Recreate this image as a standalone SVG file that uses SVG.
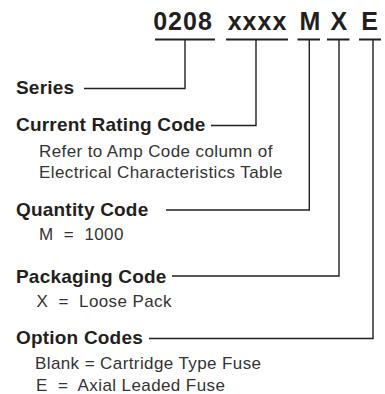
<svg xmlns="http://www.w3.org/2000/svg" width="385" height="394" viewBox="0 0 385 394">
<style>
.hd{font-family:"Liberation Sans",Arial,sans-serif;font-weight:bold;font-size:25px;fill:#231f20;text-anchor:middle}
.lb{font-family:"Liberation Sans",Arial,sans-serif;font-weight:bold;font-size:19px;letter-spacing:0.2px;fill:#231f20}
.tx{font-family:"Liberation Sans",Arial,sans-serif;font-size:17px;letter-spacing:0.4px;fill:#333}
.ul{stroke:#231f20;stroke-width:2;fill:none}
.cn{stroke:#231f20;stroke-width:1.4;fill:none}
</style>
<rect width="385" height="394" fill="#fff"/>
<g id="header">
<text class="hd" x="183" y="29.5" letter-spacing="1">0208</text>
<text class="hd" x="257.5" y="29.5" letter-spacing="1">xxxx</text>
<text class="hd" x="310" y="29.5">M</text>
<text class="hd" x="338.8" y="29.5">X</text>
<text class="hd" x="369.5" y="29.5">E</text>
<path class="ul" d="M155,39.5H215M226,39.5H288M297.5,39.5H320M327,39.5H349.5M359,39.5H381"/>
</g>
<g id="series"><text class="lb" x="16" y="94">Series</text></g>
<g id="current"><text class="lb" x="16" y="131">Current Rating Code</text>
<text class="tx" x="39" y="156.5">Refer to Amp Code column of</text>
<text class="tx" x="39" y="177.5">Electrical Characteristics Table</text></g>
<g id="quantity"><text class="lb" x="16" y="215.5">Quantity Code</text>
<text class="tx" x="39" y="239.5" xml:space="preserve">M  =  1000</text></g>
<g id="packaging"><text class="lb" x="16" y="282.5">Packaging Code</text>
<text class="tx" x="36.5" y="306.5" xml:space="preserve">X  =  Loose Pack</text></g>
<g id="option"><text class="lb" x="16" y="344">Option Codes</text>
<text class="tx" x="35" y="368.5">Blank = Cartridge Type Fuse</text>
<text class="tx" x="36" y="391" xml:space="preserve">E  =  Axial Leaded Fuse</text></g>
<g id="connectors">
<path class="cn" d="M185,40V88.5H84"/>
<path class="cn" d="M256,40V125.5H211"/>
<path class="cn" d="M309.3,40V210H166"/>
<path class="cn" d="M339,40V276H172"/>
<path class="cn" d="M373,40V338.5H149"/>
</g>
</svg>
